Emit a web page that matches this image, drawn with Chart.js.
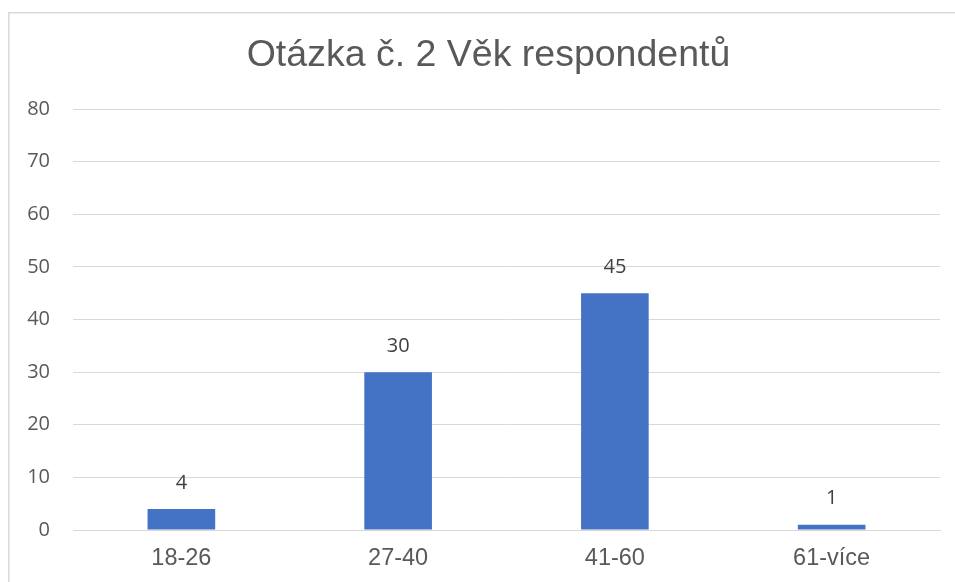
<!DOCTYPE html>
<html>
<head>
<meta charset="utf-8">
<script src="https://cdn.jsdelivr.net/npm/chart.js@4/dist/chart.umd.min.js"></script>
<style>
  html, body { margin: 0; padding: 0; background: #fff; overflow: hidden; }
  #wrap { width: 955px; height: 582px; position: relative; }
</style>
</head>
<body>
<div id="wrap"><canvas id="ageChart" width="955" height="582"></canvas></div>
<script>
const titleText = 'Otázka č. 2 Věk respondentů';
const ageGroups = ['18-26', '27-40', '41-60', '61-více'];
const respondents = [4, 30, 45, 1];
const yTicks = [0, 10, 20, 30, 40, 50, 60, 70, 80];

// light frame of the chart object (left and top edge visible),
// title centred over the whole frame which runs past the right edge
const frame = {
    id: 'frame',
    afterLayout(chart) {
        chart.titleBlock.left = 9;
        chart.titleBlock.right = 968;
    },
    beforeDraw(chart) {
        const c = chart.ctx;
        c.save();
        c.fillStyle = '#fff';
        c.fillRect(0, 0, chart.width, chart.height);
        c.strokeStyle = '#d9d9d9';
        c.lineWidth = 1.5;
        c.beginPath();
        c.moveTo(8.75, chart.height);
        c.lineTo(8.75, 12.75);
        c.lineTo(chart.width, 12.75);
        c.stroke();
        c.restore();
    }
};

// value labels above the bars
const valueLabels = {
    id: 'valueLabels',
    afterDatasetsDraw(chart) {
        const c = chart.ctx;
        const meta = chart.getDatasetMeta(0);
        c.save();
        c.font = '20px "Open Sans"';
        c.fillStyle = '#404040';
        c.textAlign = 'center';
        c.textBaseline = 'middle';
        meta.data.forEach((bar, i) => {
            c.fillText(String(chart.data.datasets[0].data[i]), bar.x, bar.y - 26);
        });
        c.restore();
    }
};

const ctx = document.getElementById('ageChart').getContext('2d');

new Chart(ctx, {
    type: 'bar',
    data: {
        labels: ageGroups,
        datasets: [{
            label: 'Počet',
            data: respondents,
            backgroundColor: '#4472c4',
            borderWidth: 0,
            barPercentage: 0.312,
            categoryPercentage: 1
        }]
    },
    options: {
        responsive: false,
        animation: false,
        layout: {
            padding: { left: 12, right: 15, top: 10, bottom: 0 }
        },
        scales: {
            y: {
                min: 0,
                max: 80,
                afterBuildTicks: s => { s.ticks = yTicks.map(v => ({ value: v })); },
                afterFit: s => { s.width = 61; },
                border: { display: false },
                grid: { color: '#d9d9d9', lineWidth: 1, drawTicks: false },
                ticks: {
                    padding: 23,
                    color: '#595959',
                    font: { family: 'Open Sans', size: 20 }
                }
            },
            x: {
                afterFit: s => { s.height = 52; },
                border: { display: true, color: '#d9d9d9' },
                grid: { display: false, drawTicks: false },
                ticks: {
                    padding: 14,
                    color: '#595959',
                    font: { family: 'Liberation Sans', size: 23.5 }
                }
            }
        },
        plugins: {
            legend: { display: false },
            tooltip: { enabled: false },
            title: {
                display: true,
                text: titleText,
                color: '#595959',
                font: { family: 'Liberation Sans', size: 37.5, weight: 'normal' },
                padding: { top: 23, bottom: 31 }
            }
        }
    },
    plugins: [frame, valueLabels]
});
</script>
</body>
</html>
